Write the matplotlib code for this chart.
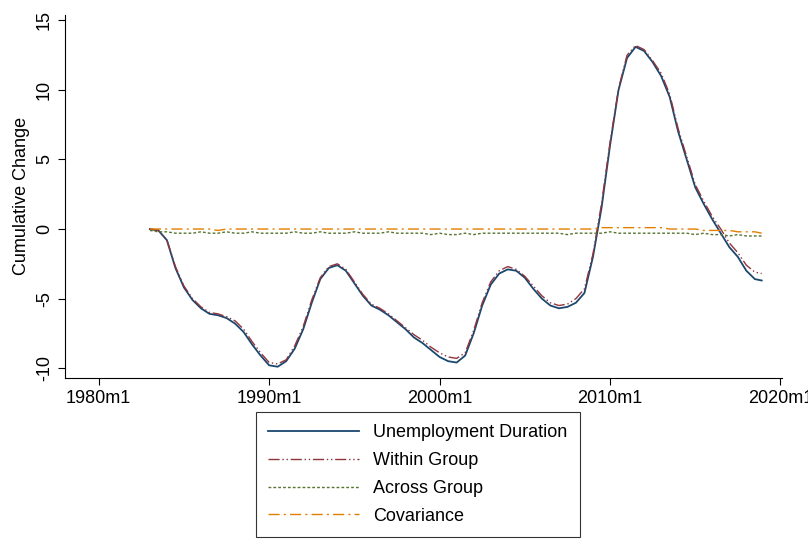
import matplotlib
matplotlib.use("Agg")
import matplotlib.pyplot as plt
import numpy as np

plt.rcParams['font.family'] = ['Liberation Sans', 'DejaVu Sans']

years = [1983.0, 1983.5, 1984.0, 1984.5, 1985.0, 1985.5, 1986.0, 1986.5, 1987.0, 1987.5,
         1988.0, 1988.5, 1989.0, 1989.5, 1990.0, 1990.5, 1991.0, 1991.5, 1992.0, 1992.5,
         1993.0, 1993.5, 1994.0, 1994.5, 1995.0, 1995.5, 1996.0, 1996.5, 1997.0, 1997.5,
         1998.0, 1998.5, 1999.0, 1999.5, 2000.0, 2000.5, 2001.0, 2001.5, 2002.0, 2002.5,
         2003.0, 2003.5, 2004.0, 2004.5, 2005.0, 2005.5, 2006.0, 2006.5, 2007.0, 2007.5,
         2008.0, 2008.5, 2009.0, 2009.5, 2010.0, 2010.5, 2011.0, 2011.5, 2012.0, 2012.5,
         2013.0, 2013.5, 2014.0, 2014.5, 2015.0, 2015.5, 2016.0, 2016.5, 2017.0, 2017.5,
         2018.0, 2018.5, 2018.9]
duration = [0.0, -0.1, -0.8, -2.8, -4.2, -5.1, -5.7, -6.1, -6.2, -6.4,
            -6.8, -7.4, -8.3, -9.1, -9.8, -9.9, -9.5, -8.6, -7.2, -5.3,
            -3.6, -2.8, -2.6, -3.0, -3.9, -4.8, -5.5, -5.8, -6.2, -6.7,
            -7.2, -7.8, -8.2, -8.7, -9.2, -9.5, -9.6, -9.1, -7.5, -5.5,
            -4.0, -3.2, -2.9, -3.0, -3.5, -4.3, -5.0, -5.5, -5.7, -5.6,
            -5.3, -4.6, -2.0, 1.5, 6.0, 10.0, 12.3, 13.1, 12.8, 12.0,
            11.0, 9.5, 7.0, 5.0, 3.0, 1.8, 0.7, -0.3, -1.3, -2.0,
            -3.0, -3.6, -3.7]
within = [0.0, -0.1, -0.8, -2.7, -4.1, -5.0, -5.6, -6.0, -6.1, -6.3,
          -6.6, -7.2, -8.1, -8.9, -9.6, -9.7, -9.4, -8.4, -7.0, -5.1,
          -3.5, -2.7, -2.5, -2.9, -3.8, -4.7, -5.4, -5.7, -6.1, -6.6,
          -7.1, -7.6, -8.0, -8.5, -8.9, -9.2, -9.3, -8.9, -7.3, -5.3,
          -3.8, -3.0, -2.7, -2.9, -3.4, -4.1, -4.8, -5.3, -5.5, -5.4,
          -5.0, -4.3, -1.8, 1.8, 6.2, 10.1, 12.5, 13.2, 12.9, 12.1,
          11.2, 9.7, 7.2, 5.2, 3.2, 2.0, 0.9, 0.0, -1.0, -1.7,
          -2.6, -3.1, -3.2]
across = [-0.1, -0.2, -0.2, -0.3, -0.3, -0.3, -0.2, -0.3, -0.3, -0.2,
          -0.3, -0.3, -0.2, -0.3, -0.3, -0.3, -0.3, -0.2, -0.3, -0.3,
          -0.2, -0.3, -0.3, -0.3, -0.2, -0.3, -0.3, -0.3, -0.2, -0.3,
          -0.3, -0.3, -0.3, -0.4, -0.3, -0.4, -0.4, -0.3, -0.4, -0.3,
          -0.3, -0.3, -0.3, -0.3, -0.3, -0.3, -0.3, -0.3, -0.3, -0.4,
          -0.3, -0.3, -0.3, -0.3, -0.2, -0.3, -0.3, -0.3, -0.3, -0.3,
          -0.3, -0.3, -0.3, -0.3, -0.4, -0.3, -0.4, -0.4, -0.5, -0.4,
          -0.5, -0.5, -0.5]
covariance = [0.0, 0.0, 0.0, 0.0, 0.0, 0.0, 0.0, 0.0, -0.1, 0.0,
              0.0, 0.0, 0.0, 0.0, 0.0, 0.0, 0.0, 0.0, 0.0, 0.0,
              0.0, 0.0, 0.0, 0.0, 0.0, 0.0, 0.0, 0.0, 0.0, 0.0,
              0.0, 0.0, 0.0, 0.0, 0.0, 0.0, 0.0, 0.0, 0.0, 0.0,
              0.0, 0.0, 0.0, 0.0, 0.0, 0.0, 0.0, 0.0, 0.0, 0.0,
              0.0, 0.0, 0.0, 0.1, 0.1, 0.1, 0.1, 0.1, 0.1, 0.1,
              0.1, 0.0, 0.0, 0.0, 0.0, -0.1, -0.1, -0.1, -0.1, -0.2,
              -0.2, -0.2, -0.3]

xticks = [1980, 1990, 2000, 2010, 2020]
xticklabels = ['1980m1', '1990m1', '2000m1', '2010m1', '2020m1']
yticks = [-10, -5, 0, 5, 10, 15]

fig = plt.figure(figsize=(8.08, 5.5), dpi=100)
ax = fig.add_axes([0.08, 0.313, 0.888, 0.66])
ax.plot(years, duration, color='#1a476f', lw=1.3, label='Unemployment Duration')
ax.plot(years, within, color='#90353b', lw=1.0, dashes=[8, 2, 1, 2, 1, 2], label='Within Group')
ax.plot(years, across, color='#55752f', lw=1.0, ls=(0, (2, 1.5)), label='Across Group')
ax.plot(years, covariance, color='#e37e00', lw=1.0, dashes=[8, 3, 1.5, 3], label='Covariance')

ax.set_xlim(1978, 2020.1)
ax.set_ylim(-10.7, 15.4)
ax.set_xticks(xticks)
ax.set_xticklabels(xticklabels)
ax.set_yticks(yticks)
ax.set_yticklabels([str(t) for t in yticks], rotation=90, va='center')
ax.tick_params(labelsize=13, direction='out', length=5)
ax.set_ylabel('Cumulative Change', fontsize=13)
for s in ['top', 'right']:
    ax.spines[s].set_visible(False)

leg = fig.legend(loc='upper center', bbox_to_anchor=(0.517, 0.268), ncol=1, fontsize=13,
                 frameon=True, fancybox=False, edgecolor='black', handlelength=5.0,
                 borderpad=0.7, labelspacing=0.6, handletextpad=0.8)
leg.get_frame().set_linewidth(0.8)
fig.savefig('out.png', dpi=100)
